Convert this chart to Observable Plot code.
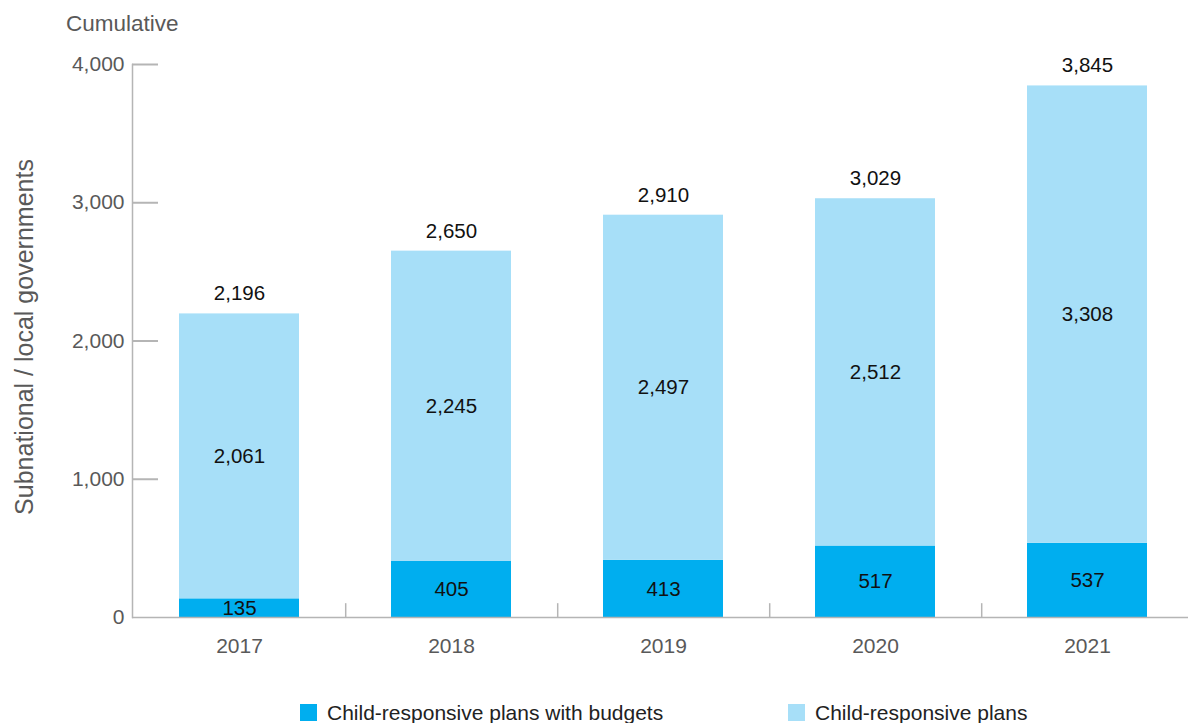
<!DOCTYPE html>
<html>
<head>
<meta charset="utf-8">
<script src="https://cdn.jsdelivr.net/npm/d3@7"></script>
<script src="https://cdn.jsdelivr.net/npm/@observablehq/plot@0.6"></script>
<style>
  html, body { margin: 0; padding: 0; background: #fff; overflow: hidden; }
  body { font-family: "Liberation Sans", Arial, sans-serif; }
  #wrap { position: relative; width: 1188px; height: 723px; }
  #chart { position: absolute; left: 0; top: 0; }
  #cum { position: absolute; left: 66px; top: 12px; font-size: 22.5px; line-height: 23px; color: #595959; }
  #ylab { position: absolute; left: 24px; top: 337px; font-size: 25px; line-height: 25px; color: #595959;
          transform: translate(-50%, -50%) rotate(-90deg); white-space: nowrap; }
  .leg { position: absolute; top: 701px; display: flex; align-items: center; font-size: 21px; line-height: 23px; color: #222; white-space: nowrap; }
  .sw { width: 17px; height: 17px; margin-right: 10px; }
</style>
</head>
<body>
<div id="wrap">
  <div id="chart"></div>
  <div id="cum">Cumulative</div>
  <div id="ylab">Subnational / local governments</div>
  <div id="legend"></div>
</div>
<script>
const years = ["2017", "2018", "2019", "2020", "2021"];
const withBudgets = [135, 405, 413, 517, 537];
const plansOnly = [2061, 2245, 2497, 2512, 3308];
const totals = [2196, 2650, 2910, 3029, 3845];
const yTicks = [0, 1000, 2000, 3000, 4000];
const seriesNames = ["Child-responsive plans with budgets", "Child-responsive plans"];
const seriesColors = ["#00aeef", "#a7dff8"];

const fmt = d3.format(",");
const data = years.flatMap((yr, i) => [
  {year: yr, series: seriesNames[0], value: withBudgets[i]},
  {year: yr, series: seriesNames[1], value: plansOnly[i]}
]);
const totalRows = years.map((yr, i) => ({year: yr, total: totals[i]}));

const W = 1188, H = 680, ML = 132, MR = 0, MT = 64, MB = 63;
const xRange = [ML, 1194];
const step = (xRange[1] - xRange[0]) / years.length;
const axisGray = "#b5b5b5";

const chart = Plot.plot({
  width: W, height: H,
  marginLeft: ML, marginRight: MR, marginTop: MT, marginBottom: MB,
  style: {fontFamily: "'Liberation Sans', Arial, sans-serif", fontSize: "21px", color: "#595959", background: "#fff"},
  x: {domain: years, range: xRange, paddingInner: 0.435, paddingOuter: 0.2175, label: null},
  y: {domain: [0, 4000], label: null},
  color: {domain: seriesNames, range: seriesColors},
  marks: [
    Plot.barY(data, {x: "year", y: "value", fill: "series"}),
    Plot.text(data, Plot.stackY({x: "year", y: "value", z: "series", text: d => fmt(d.value), fill: "#111", fontSize: 20.5})),
    Plot.text(totalRows, {x: "year", y: "total", text: d => fmt(d.total), dy: -20, fill: "#111", fontSize: 20.5}),
    Plot.ruleY([0], {stroke: axisGray, strokeWidth: 1.5}),
    Plot.frame({anchor: "left", stroke: axisGray, strokeWidth: 1.5}),
    Plot.ruleY(yTicks.slice(1), {stroke: axisGray, strokeWidth: 2, insetRight: (W - ML - MR) - 26}),
    Plot.ruleX(years.slice(0, -1), {x: d => d, y1: 0, y2: 100, dx: step / 2, stroke: axisGray, strokeWidth: 1.5}),
    Plot.axisY({ticks: yTicks, tickSize: 0, tickPadding: 8, tickFormat: fmt, fill: "#595959", fontSize: 21, label: null}),
    Plot.axisX({tickSize: 0, tickPadding: 21, fill: "#595959", fontSize: 21, label: null})
  ]
});
document.getElementById("chart").appendChild(chart);

const legend = document.getElementById("legend");
const legendLeft = [300, 788];
seriesNames.forEach((name, i) => {
  const item = document.createElement("div");
  item.className = "leg";
  item.style.left = legendLeft[i] + "px";
  const sw = document.createElement("div");
  sw.className = "sw";
  sw.style.background = seriesColors[i];
  const label = document.createElement("span");
  label.textContent = name;
  item.appendChild(sw);
  item.appendChild(label);
  legend.appendChild(item);
});
</script>
</body>
</html>
